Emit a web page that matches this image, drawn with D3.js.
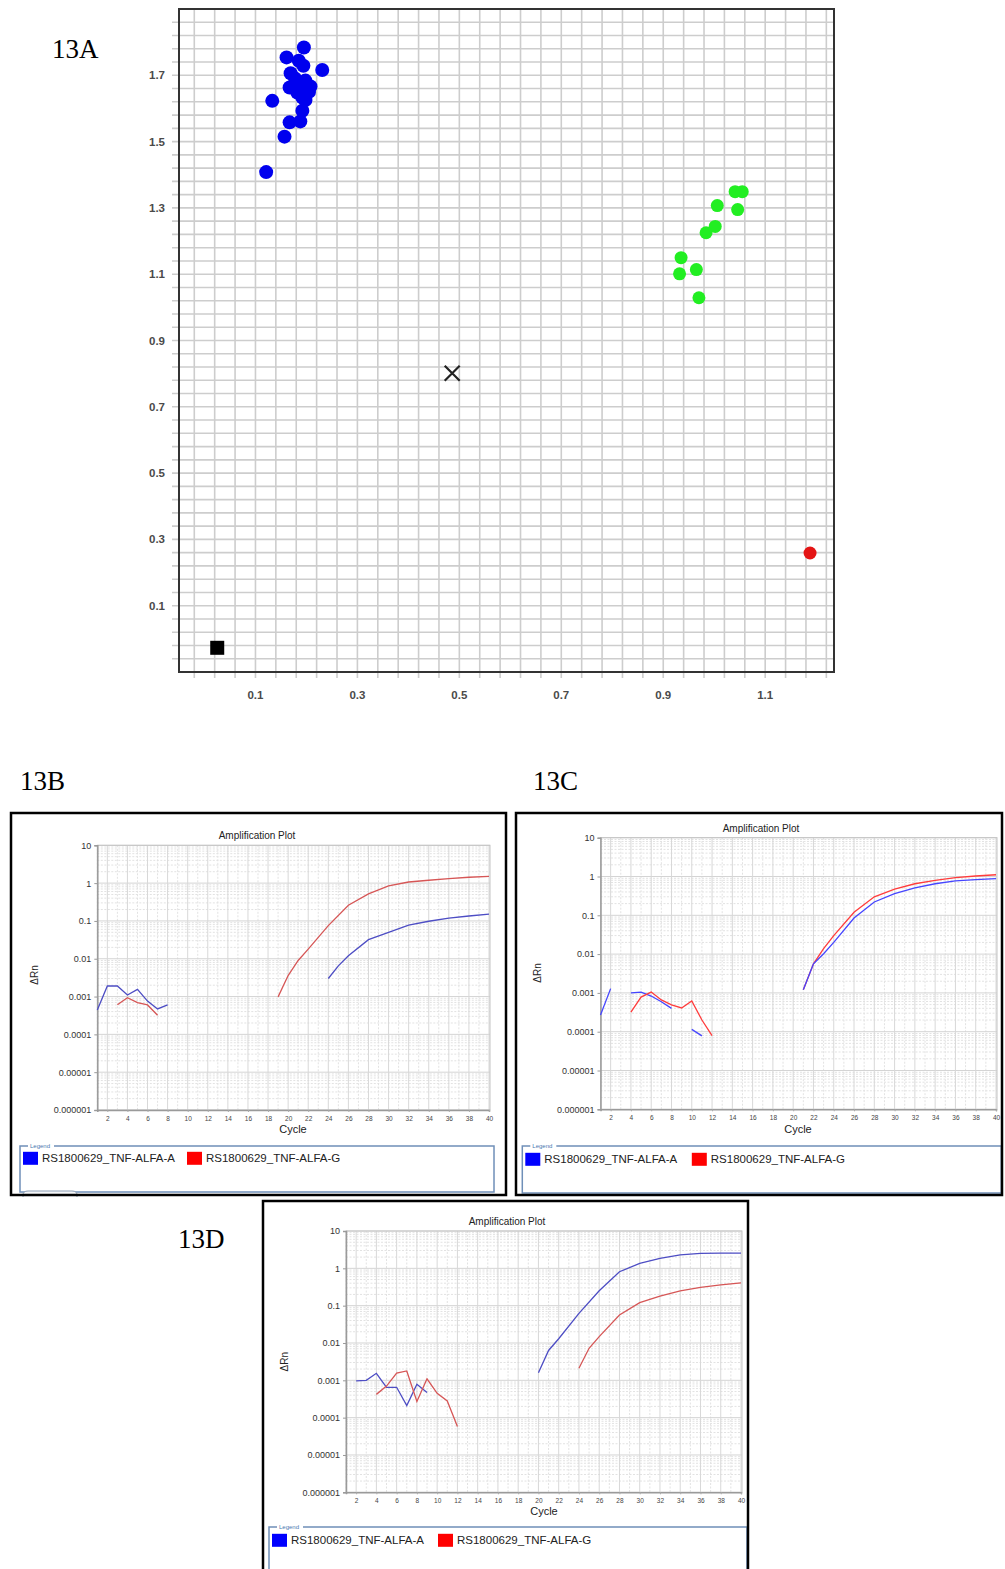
<!DOCTYPE html>
<html>
<head>
<meta charset="utf-8">
<script src="https://cdn.jsdelivr.net/npm/d3@7"></script>
<style>
  body { margin: 0; background: #fff; }
  svg { display: block; }
</style>
</head>
<body>
<div id="fig"></div>
<script>
// ---------- 13A : allelic discrimination plot ----------
const blueX = [0.195, 0.161, 0.185, 0.194, 0.231, 0.169, 0.188, 0.208, 0.167, 0.133, 0.192, 0.192, 0.167, 0.188, 0.157, 0.121, 0.178, 0.198, 0.182, 0.198, 0.176, 0.205];
const blueY = [1.784, 1.754, 1.744, 1.729, 1.716, 1.706, 1.669, 1.666, 1.663, 1.623, 1.633, 1.593, 1.558, 1.561, 1.515, 1.408, 1.690, 1.684, 1.648, 1.625, 1.672, 1.650];
const greenX = [1.041, 1.055, 1.006, 1.046, 1.002, 0.984, 0.935, 0.965, 0.932, 0.970];
const greenY = [1.349, 1.349, 1.307, 1.295, 1.244, 1.225, 1.150, 1.114, 1.101, 1.029];
const redX = [1.188];
const redY = [0.259];
const ntcX = [0.025];
const ntcY = [-0.027];
const undetX = [0.486];
const undetY = [0.801];
const xTicksA = [0.1, 0.3, 0.5, 0.7, 0.9, 1.1];
const yTicksA = [0.1, 0.3, 0.5, 0.7, 0.9, 1.1, 1.3, 1.5, 1.7];

// ---------- amplification plots ----------
const cycleTicks = [2, 4, 6, 8, 10, 12, 14, 16, 18, 20, 22, 24, 26, 28, 30, 32, 34, 36, 38, 40];
const rnTicks = [10, 1, 0.1, 0.01, 0.001, 0.0001, 0.00001, 0.000001];
const rnTickLabels = ['10', '1', '0.1', '0.01', '0.001', '0.0001', '0.00001', '0.000001'];
const legendNames = ['RS1800629_TNF-ALFA-A', 'RS1800629_TNF-ALFA-G'];

// 13B
const bBlueCyc1 = [1, 2, 3, 4, 5, 6, 7, 8];
const bBlueVal1 = [4.4e-4, 1.9e-3, 1.9e-3, 1.1e-3, 1.55e-3, 7.6e-4, 4.7e-4, 6.0e-4];
const bBlueCyc2 = [24, 25, 26, 28, 30, 32, 34, 36, 38, 40];
const bBlueVal2 = [3.0e-3, 6.5e-3, 0.012, 0.032, 0.05, 0.077, 0.098, 0.119, 0.135, 0.152];
const bRedCyc1 = [3, 4, 5, 6, 7];
const bRedVal1 = [6.1e-4, 9.3e-4, 6.9e-4, 6.0e-4, 3.2e-4];
const bRedCyc2 = [19, 20, 21, 22, 24, 26, 28, 30, 32, 34, 36, 38, 40];
const bRedVal2 = [9.8e-4, 3.6e-3, 9.0e-3, 0.018, 0.075, 0.26, 0.52, 0.84, 1.07, 1.19, 1.31, 1.43, 1.51];

// 13C
const cBlueCyc1 = [1, 2];
const cBlueVal1 = [2.7e-4, 1.29e-3];
const cBlueCyc2 = [4, 5, 6, 7, 8];
const cBlueVal2 = [1.0e-3, 1.05e-3, 8.3e-4, 5.9e-4, 4.0e-4];
const cBlueCyc3 = [10, 11];
const cBlueVal3 = [1.15e-4, 7.8e-5];
const cBlueCyc4 = [21, 22, 23, 24, 26, 28, 30, 32, 34, 36, 38, 40];
const cBlueVal4 = [1.2e-3, 5.6e-3, 0.0102, 0.020, 0.085, 0.22, 0.36, 0.51, 0.65, 0.77, 0.83, 0.88];
const cRedCyc1 = [4, 5, 6, 7, 8, 9, 10, 11, 12];
const cRedVal1 = [3.2e-4, 7.8e-4, 1.05e-3, 6.6e-4, 4.9e-4, 4.1e-4, 6.2e-4, 2.0e-4, 7.9e-5];
const cRedCyc2 = [21, 22, 23, 24, 26, 28, 30, 32, 34, 36, 38, 40];
const cRedVal2 = [1.2e-3, 5.6e-3, 0.0138, 0.030, 0.12, 0.30, 0.47, 0.65, 0.79, 0.93, 1.03, 1.11];

// 13D
const dBlueCyc1 = [2, 3, 4, 5, 6, 7, 8, 9];
const dBlueVal1 = [9.6e-4, 1.0e-3, 1.54e-3, 6.5e-4, 6.5e-4, 2.1e-4, 7.8e-4, 4.7e-4];
const dBlueCyc2 = [20, 21, 22, 24, 26, 28, 30, 32, 34, 36, 38, 40];
const dBlueVal2 = [1.6e-3, 6.3e-3, 0.013, 0.062, 0.25, 0.81, 1.36, 1.86, 2.28, 2.51, 2.57, 2.57];
const dRedCyc1 = [4, 5, 6, 7, 8, 9, 10, 11, 12];
const dRedVal1 = [4.2e-4, 7.0e-4, 1.55e-3, 1.78e-3, 2.7e-4, 1.1e-3, 4.5e-4, 2.8e-4, 5.8e-5];
const dRedCyc2 = [24, 25, 26, 28, 30, 32, 34, 36, 38, 40];
const dRedVal2 = [2.1e-3, 7.2e-3, 0.0148, 0.056, 0.12, 0.18, 0.25, 0.31, 0.36, 0.41];

const svg = d3.select('#fig').append('svg')
  .attr('width', 1005)
  .attr('height', 1569)
  .style('font-family', '"Liberation Sans", Arial, sans-serif');

// figure labels (serif like the paper)
const figLabels = [['13A', 52, 58], ['13B', 20, 790], ['13C', 533, 790], ['13D', 178, 1248]];
svg.selectAll('text.fig').data(figLabels).join('text')
  .attr('class', 'fig')
  .attr('x', d => d[1]).attr('y', d => d[2])
  .style('font-family', '"Liberation Serif", "Times New Roman", serif')
  .style('font-size', '27px')
  .attr('fill', '#000')
  .text(d => d[0]);

// ===== 13A =====
const xA = d3.scaleLinear().domain([-0.05, 1.235]).range([179, 834]);
const yA = d3.scaleLinear().domain([-0.1, 1.9]).range([672, 9]);
const gA = svg.append('g');

const xGrid = d3.range(-2, 123, 4).map(d => d / 100);
const yGrid = d3.range(-6, 190, 4).map(d => d / 100);

// grid lines double as the outside tick marks
gA.selectAll('line.vg').data(xGrid).join('line')
  .attr('x1', d => xA(d)).attr('x2', d => xA(d))
  .attr('y1', 9).attr('y2', 678)
  .attr('stroke', '#cdcdcd').attr('stroke-width', 1.6);
gA.selectAll('line.hg').data(yGrid).join('line')
  .attr('y1', d => yA(d)).attr('y2', d => yA(d))
  .attr('x1', 172).attr('x2', 834)
  .attr('stroke', '#cdcdcd').attr('stroke-width', 1.6);

gA.append('rect')
  .attr('x', 179).attr('y', 9).attr('width', 655).attr('height', 663)
  .attr('fill', 'none').attr('stroke', '#333').attr('stroke-width', 2);

gA.selectAll('text.xt').data(xTicksA).join('text')
  .attr('x', d => xA(d)).attr('y', 699)
  .attr('text-anchor', 'middle')
  .style('font-size', '11.5px').style('font-weight', 'bold')
  .attr('fill', '#4a4a4a')
  .text(d => d.toFixed(1));
gA.selectAll('text.yt').data(yTicksA).join('text')
  .attr('x', 165).attr('y', d => yA(d) + 4)
  .attr('text-anchor', 'end')
  .style('font-size', '11.5px').style('font-weight', 'bold')
  .attr('fill', '#4a4a4a')
  .text(d => d.toFixed(1));

gA.selectAll('circle.blue').data(d3.zip(blueX, blueY)).join('circle')
  .attr('cx', d => xA(d[0])).attr('cy', d => yA(d[1])).attr('r', 7)
  .attr('fill', '#0000ee');
gA.selectAll('circle.green').data(d3.zip(greenX, greenY)).join('circle')
  .attr('cx', d => xA(d[0])).attr('cy', d => yA(d[1])).attr('r', 6.5)
  .attr('fill', '#22ee22');
gA.selectAll('circle.red').data(d3.zip(redX, redY)).join('circle')
  .attr('cx', d => xA(d[0])).attr('cy', d => yA(d[1])).attr('r', 6.5)
  .attr('fill', '#e41414');
gA.selectAll('rect.ntc').data(d3.zip(ntcX, ntcY)).join('rect')
  .attr('x', d => xA(d[0]) - 7).attr('y', d => yA(d[1]) - 7)
  .attr('width', 14).attr('height', 14)
  .attr('fill', '#000');
gA.selectAll('path.undet').data(d3.zip(undetX, undetY)).join('path')
  .attr('d', d => {
    const cx = xA(d[0]), cy = yA(d[1]), s = 7.5;
    return `M${cx - s},${cy - s}L${cx + s},${cy + s}M${cx - s},${cy + s}L${cx + s},${cy - s}`;
  })
  .attr('stroke', '#222').attr('stroke-width', 2.2);

// ===== amplification panels =====
function ampPanel(p) {
  const g = svg.append('g');
  const x = d3.scaleLinear().domain([1, 40]).range([p.left, p.right]);
  const y = d3.scaleLog().domain([1e-6, 10]).range([p.bottom, p.top]);

  g.append('rect')
    .attr('x', p.box[0]).attr('y', p.box[1]).attr('width', p.box[2]).attr('height', p.box[3])
    .attr('fill', '#fff');

  // grid
  const minorY = y.ticks().filter(v => Math.abs(Math.log10(v) - Math.round(Math.log10(v))) > 1e-6);
  g.selectAll('line.hm').data(minorY).join('line')
    .attr('x1', p.left).attr('x2', p.right + 1)
    .attr('y1', d => y(d)).attr('y2', d => y(d))
    .attr('stroke', '#e2e2e2').attr('stroke-dasharray', '2,1.5');
  g.selectAll('line.vm').data(d3.range(1, 41).filter(c => c % 2 === 1)).join('line')
    .attr('x1', d => x(d)).attr('x2', d => x(d))
    .attr('y1', p.top).attr('y2', p.bottom)
    .attr('stroke', '#e2e2e2').attr('stroke-dasharray', '2,1.5');
  g.selectAll('line.hM').data(rnTicks).join('line')
    .attr('x1', p.left).attr('x2', p.right + 1)
    .attr('y1', d => y(d)).attr('y2', d => y(d))
    .attr('stroke', '#d4d4d4');
  g.selectAll('line.vM').data(cycleTicks).join('line')
    .attr('x1', d => x(d)).attr('x2', d => x(d))
    .attr('y1', p.top).attr('y2', p.bottom)
    .attr('stroke', '#d8d8d8');
  g.append('rect')
    .attr('x', p.left).attr('y', p.top)
    .attr('width', p.right + 1 - p.left).attr('height', p.bottom - p.top)
    .attr('fill', 'none').attr('stroke', '#c4c4c4');

  // axes
  const ay = g.append('g').attr('transform', `translate(${p.left},0)`)
    .call(d3.axisLeft(y).tickValues(rnTicks).tickFormat((d, i) => rnTickLabels[i]).tickSize(3).tickPadding(3));
  ay.select('.domain').attr('stroke', '#9a9a9a').attr('stroke-width', 1.5);
  ay.selectAll('.tick line').attr('stroke', '#9a9a9a');
  ay.selectAll('.tick text').attr('fill', '#333')
    .style('font-size', '9px').style('font-family', '"Liberation Sans", Arial, sans-serif');

  const ax = g.append('g').attr('transform', `translate(0,${p.bottom})`)
    .call(d3.axisBottom(x).tickValues(cycleTicks).tickSize(2).tickPadding(4));
  ax.select('.domain').attr('stroke', '#9a9a9a').attr('stroke-width', 1.5);
  ax.selectAll('.tick line').attr('stroke', '#aaa');
  ax.selectAll('.tick text').attr('fill', '#444')
    .style('font-size', '6.5px').style('font-family', '"Liberation Sans", Arial, sans-serif');

  // labels
  g.append('text').attr('x', p.titleX).attr('y', p.titleY)
    .attr('text-anchor', 'middle').style('font-size', '10px').attr('fill', '#222')
    .text('Amplification Plot');
  g.append('text').attr('x', p.cycleX).attr('y', p.cycleY)
    .attr('text-anchor', 'middle').style('font-size', '11px').attr('fill', '#222')
    .text('Cycle');
  g.append('text')
    .attr('transform', `translate(${p.rnX},${p.rnY}) rotate(-90)`)
    .attr('text-anchor', 'middle').style('font-size', '10px').attr('fill', '#222')
    .text('\u0394Rn');

  // curves
  const line = d3.line().x(d => x(d[0])).y(d => y(d[1]));
  p.series.forEach(s => {
    g.append('path')
      .datum(d3.zip(s.cyc, s.val))
      .attr('d', line)
      .attr('fill', 'none')
      .attr('stroke', s.color)
      .attr('stroke-width', 1.3);
  });

  // legend
  const lb = p.legend;
  g.append('rect')
    .attr('x', lb[0]).attr('y', lb[1]).attr('width', lb[2]).attr('height', lb[3])
    .attr('fill', 'none').attr('stroke', '#6f8fb8').attr('stroke-width', 1.5);
  g.append('rect')
    .attr('x', lb[0] + 8).attr('y', lb[1] - 4).attr('width', 26).attr('height', 7)
    .attr('fill', '#fff');
  g.append('text').attr('x', lb[0] + 10).attr('y', lb[1] + 2)
    .style('font-size', '6px').attr('fill', '#4a78b0').text('Legend');
  const swatch = ['#0000ff', '#ff0000'];
  legendNames.forEach((name, i) => {
    const sx = lb[0] + 3 + i * p.legendStep;
    g.append('rect')
      .attr('x', sx).attr('y', p.legendY - 6.5).attr('width', 15).attr('height', 13)
      .attr('fill', swatch[i]);
    g.append('text')
      .attr('x', sx + 19).attr('y', p.legendY + 4)
      .style('font-size', '11.5px').attr('fill', '#222')
      .text(name);
  });

  if (p.tab) {
    const [tx, ty, tw] = p.tab;
    g.append('path')
      .attr('d', `M${tx},${ty + 6}L${tx},${ty + 4}Q${tx},${ty} ${tx + 5},${ty}L${tx + tw - 5},${ty}Q${tx + tw},${ty} ${tx + tw},${ty + 4}L${tx + tw},${ty + 6}`)
      .attr('fill', '#f3f5f8').attr('stroke', '#8c9db3');
  }

  // outer frame
  g.append('rect')
    .attr('x', p.box[0]).attr('y', p.box[1]).attr('width', p.box[2]).attr('height', p.box[3])
    .attr('fill', 'none').attr('stroke', '#000').attr('stroke-width', 2.5);
}

const mutedBlue = '#4d4dc4';
const mutedRed = '#d65656';
const brightBlue = '#4545ff';
const brightRed = '#ff3c3c';

ampPanel({
  box: [11, 813, 495, 382],
  left: 97.3, right: 489, top: 845.3, bottom: 1110,
  titleX: 257, titleY: 839, cycleX: 293, cycleY: 1133, rnX: 38, rnY: 975,
  legend: [20, 1146, 474, 46], legendY: 1158.3, legendStep: 164,
  tab: [23, 1191, 54],
  series: [
    { cyc: bBlueCyc1, val: bBlueVal1, color: mutedBlue },
    { cyc: bBlueCyc2, val: bBlueVal2, color: mutedBlue },
    { cyc: bRedCyc1, val: bRedVal1, color: mutedRed },
    { cyc: bRedCyc2, val: bRedVal2, color: mutedRed }
  ]
});

ampPanel({
  box: [516, 813, 486, 382],
  left: 600.5, right: 996, top: 837.7, bottom: 1109.3,
  titleX: 761, titleY: 832, cycleX: 798, cycleY: 1133, rnX: 541, rnY: 973,
  legend: [522.3, 1146, 479, 47], legendY: 1159.3, legendStep: 166.5,
  series: [
    { cyc: cBlueCyc1, val: cBlueVal1, color: brightBlue },
    { cyc: cBlueCyc2, val: cBlueVal2, color: brightBlue },
    { cyc: cBlueCyc3, val: cBlueVal3, color: brightBlue },
    { cyc: cRedCyc1, val: cRedVal1, color: brightRed },
    { cyc: cRedCyc2, val: cRedVal2, color: brightRed },
    { cyc: cBlueCyc4, val: cBlueVal4, color: brightBlue }
  ]
});

ampPanel({
  box: [263, 1201, 485, 380],
  left: 346, right: 741, top: 1231, bottom: 1492.3,
  titleX: 507, titleY: 1225, cycleX: 544, cycleY: 1514.5, rnX: 288, rnY: 1361.7,
  legend: [269, 1527, 478, 60], legendY: 1540.3, legendStep: 166,
  series: [
    { cyc: dBlueCyc1, val: dBlueVal1, color: mutedBlue },
    { cyc: dBlueCyc2, val: dBlueVal2, color: mutedBlue },
    { cyc: dRedCyc1, val: dRedVal1, color: mutedRed },
    { cyc: dRedCyc2, val: dRedVal2, color: mutedRed }
  ]
});
</script>
</body>
</html>
